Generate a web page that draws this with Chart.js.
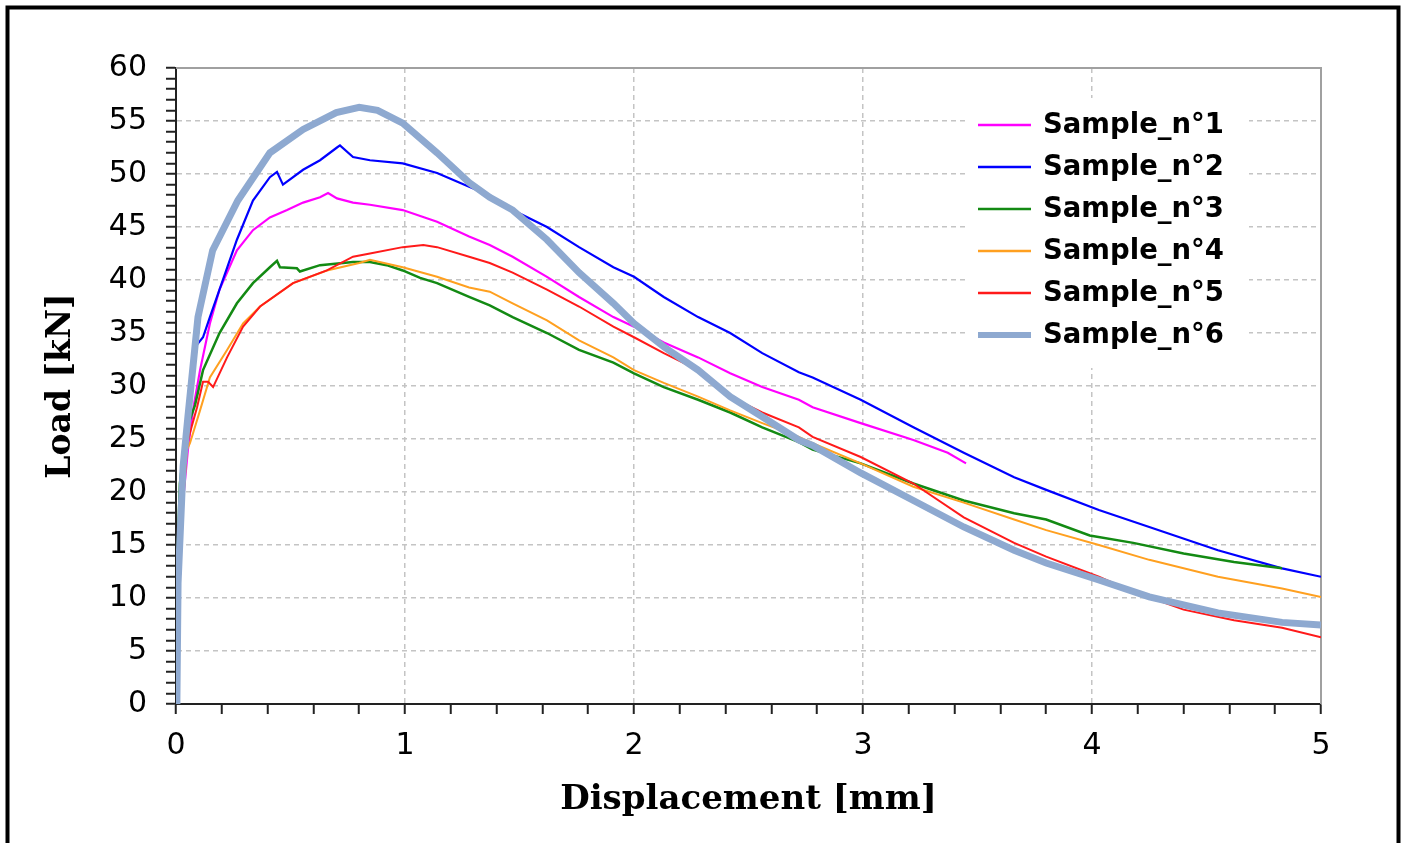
<!DOCTYPE html>
<html>
<head>
<meta charset="utf-8">
<script src="https://cdn.jsdelivr.net/npm/chart.js@4/dist/chart.umd.min.js"></script>
<style>
  body { margin: 0; background: #fff; }
  canvas { display: block; }
</style>
</head>
<body>
<canvas id="chart" width="1404" height="843"></canvas>
<script>
// Load-displacement curves, values
const seriesNames = ['Sample_n°1', 'Sample_n°2', 'Sample_n°3', 'Sample_n°4', 'Sample_n°5', 'Sample_n°6'];

const s1X = [0, 0.009, 0.031, 0.052, 0.074, 0.105, 0.148, 0.19, 0.266, 0.336, 0.41, 0.485, 0.555, 0.629, 0.664, 0.703, 0.773, 0.847, 0.99, 1.14, 1.28, 1.37, 1.47, 1.62, 1.76, 1.91, 2.0, 2.13, 2.28, 2.42, 2.56, 2.72, 2.78, 2.99, 3.22, 3.37, 3.45];
const s1Y = [0, 9.8, 19.2, 24.0, 27.7, 31.5, 35.9, 39.1, 42.8, 44.7, 45.9, 46.6, 47.3, 47.8, 48.2, 47.7, 47.3, 47.1, 46.6, 45.5, 44.1, 43.3, 42.2, 40.3, 38.4, 36.5, 35.6, 34.1, 32.7, 31.2, 29.9, 28.7, 28.0, 26.5, 24.9, 23.7, 22.7];

const s2X = [0, 0.013, 0.035, 0.061, 0.092, 0.118, 0.148, 0.19, 0.266, 0.336, 0.41, 0.441, 0.467, 0.555, 0.629, 0.703, 0.716, 0.773, 0.847, 0.99, 1.14, 1.28, 1.37, 1.47, 1.62, 1.76, 1.91, 2.0, 2.13, 2.28, 2.42, 2.56, 2.72, 2.78, 2.99, 3.22, 3.44, 3.66, 3.8, 4.03, 4.25, 4.55, 4.83, 5.0];
const s2Y = [0, 9.8, 22.1, 28.7, 33.9, 34.6, 36.5, 39.1, 43.8, 47.5, 49.7, 50.2, 49.0, 50.4, 51.3, 52.5, 52.7, 51.6, 51.3, 51.0, 50.1, 48.8, 48.0, 46.6, 45.0, 43.1, 41.2, 40.3, 38.4, 36.5, 35.0, 33.1, 31.3, 30.8, 28.7, 26.1, 23.7, 21.4, 20.2, 18.3, 16.7, 14.5, 12.8, 12.0];

const s3X = [0, 0.004, 0.009, 0.017, 0.044, 0.083, 0.118, 0.19, 0.266, 0.336, 0.41, 0.441, 0.454, 0.528, 0.541, 0.629, 0.773, 0.847, 0.92, 0.99, 1.066, 1.14, 1.28, 1.37, 1.47, 1.62, 1.76, 1.91, 2.0, 2.13, 2.28, 2.42, 2.56, 2.72, 2.78, 2.99, 3.22, 3.44, 3.66, 3.8, 3.99, 4.18, 4.4, 4.62, 4.83];
const s3Y = [0, 7.3, 15.5, 20.8, 25.8, 28.2, 31.5, 35.0, 37.8, 39.7, 41.2, 41.8, 41.2, 41.1, 40.8, 41.4, 41.7, 41.7, 41.4, 40.9, 40.2, 39.7, 38.4, 37.6, 36.5, 35.0, 33.4, 32.2, 31.2, 29.9, 28.7, 27.5, 26.1, 24.7, 24.0, 22.7, 20.8, 19.2, 18.0, 17.4, 15.9, 15.2, 14.2, 13.4, 12.8];

const s4X = [0, 0.013, 0.031, 0.048, 0.061, 0.105, 0.148, 0.223, 0.293, 0.367, 0.511, 0.659, 0.8, 0.847, 0.99, 1.14, 1.28, 1.37, 1.47, 1.62, 1.76, 1.91, 2.0, 2.13, 2.28, 2.42, 2.56, 2.72, 2.78, 2.99, 3.22, 3.44, 3.66, 3.8, 4.03, 4.25, 4.55, 4.83, 5.0];
const s4Y = [0, 9.8, 19.2, 24.0, 24.6, 27.7, 30.8, 33.4, 35.9, 37.5, 39.7, 40.9, 41.6, 41.9, 41.2, 40.3, 39.3, 38.9, 37.8, 36.2, 34.3, 32.7, 31.5, 30.3, 29.0, 27.7, 26.5, 25.2, 24.6, 22.7, 20.5, 19.0, 17.4, 16.4, 15.0, 13.6, 12.0, 10.9, 10.1];

const s5X = [0, 0.013, 0.031, 0.048, 0.061, 0.092, 0.118, 0.14, 0.162, 0.223, 0.293, 0.367, 0.511, 0.659, 0.773, 0.847, 0.99, 1.08, 1.14, 1.28, 1.37, 1.47, 1.62, 1.76, 1.91, 2.0, 2.13, 2.28, 2.42, 2.56, 2.72, 2.78, 2.99, 3.22, 3.44, 3.66, 3.8, 4.03, 4.18, 4.4, 4.62, 4.83, 5.0];
const s5Y = [0, 9.8, 19.2, 24.4, 25.6, 28.0, 30.4, 30.4, 29.9, 32.7, 35.6, 37.5, 39.7, 40.9, 42.2, 42.5, 43.1, 43.3, 43.1, 42.2, 41.6, 40.7, 39.1, 37.5, 35.6, 34.6, 33.1, 31.5, 29.0, 27.5, 26.1, 25.2, 23.3, 20.8, 17.6, 15.2, 13.9, 12.0, 10.6, 8.9, 7.9, 7.2, 6.3];

const s6X = [0, 0.004, 0.009, 0.031, 0.052, 0.074, 0.096, 0.16, 0.27, 0.41, 0.555, 0.7, 0.8, 0.88, 0.99, 1.14, 1.28, 1.37, 1.47, 1.62, 1.76, 1.91, 2.0, 2.13, 2.28, 2.42, 2.56, 2.72, 2.78, 2.99, 3.22, 3.44, 3.66, 3.8, 4.03, 4.25, 4.55, 4.83, 5.0];
const s6Y = [0, 0.4, 11.4, 22.4, 27.1, 31.8, 36.5, 42.8, 47.5, 52.0, 54.2, 55.8, 56.3, 56.0, 54.8, 52.0, 49.2, 47.8, 46.6, 43.8, 40.7, 37.8, 35.9, 33.7, 31.5, 29.0, 27.1, 24.9, 24.4, 21.8, 19.2, 16.7, 14.5, 13.3, 11.7, 10.1, 8.6, 7.7, 7.45];

const allX = [s1X, s2X, s3X, s4X, s5X, s6X];
const allY = [s1Y, s2Y, s3Y, s4Y, s5Y, s6Y];
const colors = ['#ff00ff', '#0000ff', '#138a13', '#ffa020', '#ff1a1a', '#8ea9d0'];
const widths = [2.2, 2.2, 2.5, 2, 2, 7];

const xMajorLabels = [0, 1, 2, 3, 4, 5];
const yMajorLabels = [0, 5, 10, 15, 20, 25, 30, 35, 40, 45, 50, 55, 60];

const isWhole = (v, step) => Math.abs(v / step - Math.round(v / step)) < 1e-6;

const datasets = seriesNames.map((name, i) => ({
    label: name,
    data: allX[i].map((x, j) => ({ x: x, y: allY[i][j] })),
    borderColor: colors[i],
    backgroundColor: colors[i],
    borderWidth: widths[i],
    pointRadius: 0,
    tension: 0,
    fill: false,
    order: seriesNames.length - i
}));

// outer frame and top/right plot border
const framePlugin = {
    id: 'frame',
    beforeDatasetsDraw(chart) {
        const { ctx, chartArea } = chart;
        ctx.save();
        ctx.strokeStyle = '#a0a0a0';
        ctx.lineWidth = 2;
        ctx.beginPath();
        ctx.moveTo(chartArea.left, chartArea.top);
        ctx.lineTo(chartArea.right, chartArea.top);
        ctx.lineTo(chartArea.right, chartArea.bottom);
        ctx.stroke();
        ctx.restore();
    },
    afterDraw(chart) {
        const ctx = chart.ctx;
        ctx.save();
        ctx.strokeStyle = '#000';
        ctx.lineWidth = 4;
        ctx.strokeRect(7.5, 7.5, 1391, 900);
        ctx.restore();
    }
};

// legend drawn inside the plot, top right
const legendPlugin = {
    id: 'insideLegend',
    afterDraw(chart) {
        const ctx = chart.ctx;
        ctx.save();
        ctx.fillStyle = '#fff';
        ctx.fillRect(967, 98, 282, 270);
        ctx.font = 'bold 27.5px "DejaVu Sans"';
        ctx.textBaseline = 'middle';
        chart.data.datasets.forEach((ds, i) => {
            const y = 125 + i * 42;
            ctx.strokeStyle = ds.borderColor;
            ctx.lineWidth = i === 5 ? 6 : 2.5;
            ctx.beginPath();
            ctx.moveTo(978, y);
            ctx.lineTo(1031, y);
            ctx.stroke();
            ctx.fillStyle = '#000';
            ctx.fillText(ds.label, 1043, y + 1);
        });
        ctx.restore();
    }
};

const ctx = document.getElementById('chart').getContext('2d');
new Chart(ctx, {
    type: 'line',
    data: { datasets: datasets },
    options: {
        responsive: false,
        animation: false,
        layout: { padding: { left: 0, top: 68, right: 83, bottom: 0 } },
        plugins: {
            legend: { display: false },
            tooltip: { enabled: false }
        },
        scales: {
            x: {
                type: 'linear',
                min: 0,
                max: 5,
                afterFit(scale) { scale.height = 139; },
                border: { color: '#222', width: 2, dash: [5, 4] },
                grid: {
                    color: c => (c.tick && isWhole(c.tick.value, 1)) ? '#c4c4c4' : 'rgba(0,0,0,0)',
                    lineWidth: 1.5,
                    tickColor: '#222',
                    tickLength: 10,
                    tickWidth: 2
                },
                ticks: {
                    stepSize: 0.2,
                    autoSkip: false,
                    maxRotation: 0,
                    padding: 14,
                    color: '#000',
                    font: { family: '"DejaVu Sans"', size: 30 },
                    callback: v => xMajorLabels.find(m => Math.abs(m - v) < 1e-6) !== undefined ? String(Math.round(v)) : ''
                },
                title: {
                    display: true,
                    text: 'Displacement [mm]',
                    color: '#000',
                    font: { family: '"DejaVu Serif"', size: 34, weight: 'bold' },
                    padding: { top: 0, bottom: 22 }
                }
            },
            y: {
                min: 0,
                max: 60,
                afterFit(scale) { scale.width = 176; },
                border: { color: '#222', width: 2, dash: [5, 4] },
                grid: {
                    color: c => (c.tick && isWhole(c.tick.value, 5)) ? '#c4c4c4' : 'rgba(0,0,0,0)',
                    lineWidth: 1.5,
                    tickColor: '#222',
                    tickLength: 10,
                    tickWidth: 2
                },
                ticks: {
                    stepSize: 1,
                    autoSkip: false,
                    padding: 19,
                    color: '#000',
                    font: { family: '"DejaVu Sans"', size: 30 },
                    callback: v => yMajorLabels.includes(v) ? String(v) : ''
                },
                title: {
                    display: true,
                    text: 'Load [kN]',
                    color: '#000',
                    font: { family: '"DejaVu Serif"', size: 33, weight: 'bold' },
                    padding: { top: 42, bottom: 0 }
                }
            }
        }
    },
    plugins: [framePlugin, legendPlugin]
});
</script>
</body>
</html>
